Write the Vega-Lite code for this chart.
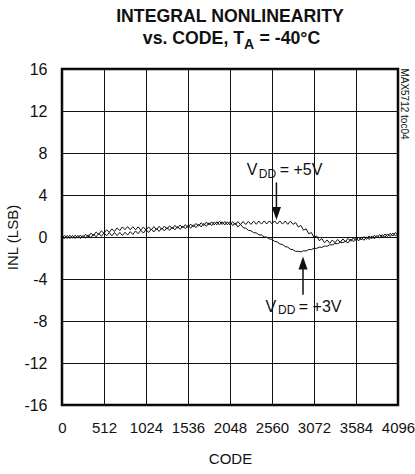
{
  "$schema": "https://vega.github.io/schema/vega-lite/v6.json",
  "width": 336,
  "height": 336,
  "autosize": {"type": "none"},
  "padding": {"left": 62, "top": 69, "right": 17, "bottom": 69},
  "background": "white",
  "config": {
    "font": "Liberation Sans",
    "view": {"stroke": "black", "strokeWidth": 2.5},
    "axis": {
      "grid": true, "gridColor": "#111", "gridOpacity": 1, "gridWidth": 1,
      "domain": false, "ticks": false, "tickSize": 0,
      "labelFont": "Liberation Sans", "labelFontSize": 15, "labelColor": "#111",
      "titleFont": "Liberation Sans", "titleFontSize": 15, "titleFontWeight": "normal", "titleColor": "#111"
    }
  },
  "datasets": {
    "inl": [
      {"code":0,"v5":-0.1,"v3":-0.05},{"code":32,"v5":0.16,"v3":-0.15},{"code":64,"v5":-0.14,"v3":0.15},{"code":96,"v5":0.17,"v3":-0.15},
      {"code":128,"v5":-0.12,"v3":0.15},{"code":160,"v5":0.18,"v3":-0.15},{"code":192,"v5":-0.11,"v3":0.15},{"code":224,"v5":0.19,"v3":-0.15},
      {"code":256,"v5":-0.1,"v3":0.15},{"code":288,"v5":0.26,"v3":-0.12},{"code":320,"v5":0.01,"v3":0.21},{"code":352,"v5":0.37,"v3":-0.06},
      {"code":384,"v5":0.13,"v3":0.28},{"code":416,"v5":0.48,"v3":0.01},{"code":448,"v5":0.24,"v3":0.34},{"code":480,"v5":0.59,"v3":0.07},
      {"code":512,"v5":0.35,"v3":0.4},{"code":544,"v5":0.69,"v3":0.11},{"code":576,"v5":0.44,"v3":0.41},{"code":608,"v5":0.78,"v3":0.12},
      {"code":640,"v5":0.53,"v3":0.43},{"code":672,"v5":0.87,"v3":0.13},{"code":704,"v5":0.61,"v3":0.44},{"code":736,"v5":0.96,"v3":0.14},
      {"code":768,"v5":0.7,"v3":0.45},{"code":800,"v5":0.99,"v3":0.18},{"code":832,"v5":0.69,"v3":0.51},{"code":864,"v5":0.98,"v3":0.24},
      {"code":896,"v5":0.68,"v3":0.58},{"code":928,"v5":0.97,"v3":0.31},{"code":960,"v5":0.66,"v3":0.64},{"code":992,"v5":0.96,"v3":0.37},
      {"code":1024,"v5":0.65,"v3":0.7},{"code":1056,"v5":0.96,"v3":0.43},{"code":1088,"v5":0.68,"v3":0.75},{"code":1120,"v5":0.99,"v3":0.48},
      {"code":1152,"v5":0.7,"v3":0.8},{"code":1184,"v5":1.01,"v3":0.53},{"code":1216,"v5":0.73,"v3":0.85},{"code":1248,"v5":1.04,"v3":0.58},
      {"code":1280,"v5":0.75,"v3":0.9},{"code":1312,"v5":1.07,"v3":0.63},{"code":1344,"v5":0.79,"v3":0.95},{"code":1376,"v5":1.11,"v3":0.68},
      {"code":1408,"v5":0.83,"v3":1.0},{"code":1440,"v5":1.14,"v3":0.73},{"code":1472,"v5":0.86,"v3":1.05},{"code":1504,"v5":1.18,"v3":0.78},
      {"code":1536,"v5":0.9,"v3":1.1},{"code":1568,"v5":1.23,"v3":0.83},{"code":1600,"v5":0.96,"v3":1.16},{"code":1632,"v5":1.29,"v3":0.89},
      {"code":1664,"v5":1.03,"v3":1.23},{"code":1696,"v5":1.36,"v3":0.96},{"code":1728,"v5":1.09,"v3":1.29},{"code":1760,"v5":1.42,"v3":1.02},
      {"code":1792,"v5":1.15,"v3":1.35},{"code":1824,"v5":1.45,"v3":1.09},{"code":1856,"v5":1.15,"v3":1.43},{"code":1888,"v5":1.45,"v3":1.16},
      {"code":1920,"v5":1.15,"v3":1.5},{"code":1952,"v5":1.45,"v3":1.19},{"code":1984,"v5":1.15,"v3":1.48},{"code":2016,"v5":1.45,"v3":1.16},
      {"code":2048,"v5":1.15,"v3":1.45},{"code":2080,"v5":1.46,"v3":1.09},{"code":2112,"v5":1.16,"v3":1.33},{"code":2144,"v5":1.47,"v3":0.96},
      {"code":2176,"v5":1.18,"v3":1.2},{"code":2208,"v5":1.48,"v3":0.89},{"code":2240,"v5":1.19,"v3":0.84},{"code":2272,"v5":1.49,"v3":0.64},
      {"code":2304,"v5":1.2,"v3":0.59},{"code":2336,"v5":1.51,"v3":0.41},{"code":2368,"v5":1.21,"v3":0.39},{"code":2400,"v5":1.52,"v3":0.21},
      {"code":2432,"v5":1.23,"v3":0.19},{"code":2464,"v5":1.53,"v3":0.01},{"code":2496,"v5":1.24,"v3":-0.01},{"code":2528,"v5":1.54,"v3":-0.19},
      {"code":2560,"v5":1.25,"v3":-0.21},{"code":2592,"v5":1.54,"v3":-0.42},{"code":2624,"v5":1.24,"v3":-0.46},{"code":2656,"v5":1.53,"v3":-0.67},
      {"code":2688,"v5":1.23,"v3":-0.71},{"code":2720,"v5":1.52,"v3":-0.92},{"code":2752,"v5":1.21,"v3":-0.96},{"code":2784,"v5":1.51,"v3":-1.17},
      {"code":2816,"v5":1.2,"v3":-1.21},{"code":2848,"v5":1.38,"v3":-1.37},{"code":2880,"v5":0.95,"v3":-1.36},{"code":2912,"v5":1.1,"v3":-1.42},
      {"code":2944,"v5":0.65,"v3":-1.31},{"code":2976,"v5":0.78,"v3":-1.33},{"code":3008,"v5":0.3,"v3":-1.19},{"code":3040,"v5":0.43,"v3":-1.2},
      {"code":3072,"v5":-0.05,"v3":-1.06},{"code":3104,"v5":0.1,"v3":-1.09},{"code":3136,"v5":-0.35,"v3":-0.96},{"code":3168,"v5":-0.15,"v3":-0.99},
      {"code":3200,"v5":-0.55,"v3":-0.86},{"code":3232,"v5":-0.28,"v3":-0.88},{"code":3264,"v5":-0.6,"v3":-0.74},{"code":3296,"v5":-0.28,"v3":-0.75},
      {"code":3328,"v5":-0.55,"v3":-0.61},{"code":3360,"v5":-0.23,"v3":-0.64},{"code":3392,"v5":-0.5,"v3":-0.51},{"code":3424,"v5":-0.18,"v3":-0.54},
      {"code":3456,"v5":-0.45,"v3":-0.41},{"code":3488,"v5":-0.13,"v3":-0.55},{"code":3520,"v5":-0.4,"v3":-0.2},{"code":3552,"v5":-0.08,"v3":-0.45},
      {"code":3584,"v5":-0.35,"v3":-0.1},{"code":3616,"v5":-0.02,"v3":-0.37},{"code":3648,"v5":-0.29,"v3":-0.04},{"code":3680,"v5":0.04,"v3":-0.31},
      {"code":3712,"v5":-0.23,"v3":0.02},{"code":3744,"v5":0.11,"v3":-0.24},{"code":3776,"v5":-0.16,"v3":0.09},{"code":3808,"v5":0.17,"v3":-0.18},
      {"code":3840,"v5":-0.1,"v3":0.15},{"code":3872,"v5":0.23,"v3":-0.11},{"code":3904,"v5":-0.04,"v3":0.23},{"code":3936,"v5":0.29,"v3":-0.04},
      {"code":3968,"v5":0.03,"v3":0.3},{"code":4000,"v5":0.36,"v3":0.04},{"code":4032,"v5":0.09,"v3":0.38},{"code":4064,"v5":0.42,"v3":0.11},
      {"code":4095,"v5":0.2,"v3":0.25}
    ],
    "arrows": [
      {"series":"v5","code":2614,"inl":5.2,"inl2":2.6,"head":2.24},
      {"series":"v3","code":2938,"inl":-2.7,"inl2":-5.5,"head":-2.48}
    ],
    "labels": [
      {"role":"title","code":2048,"inl":20.5,"t":"INTEGRAL NONLINEARITY"},
      {"role":"title2","code":985,"inl":18.38,"t":"vs. CODE, T"},
      {"role":"title2sub","code":2219,"inl":17.9,"t":"A"},
      {"role":"title2","code":2408,"inl":18.38,"t":"= -40°C"},
      {"role":"ann","code":2252,"inl":5.95,"t":"V"},
      {"role":"annsub","code":2398,"inl":5.66,"t":"DD"},
      {"role":"ann","code":2654,"inl":5.95,"t":"= +5V"},
      {"role":"ann","code":2480,"inl":-7.11,"t":"V"},
      {"role":"annsub","code":2633,"inl":-7.33,"t":"DD"},
      {"role":"ann","code":2886,"inl":-7.11,"t":"= +3V"},
      {"role":"toc","code":4170,"inl":12.67,"t":"MAX5712 toc04"}
    ]
  },
  "layer": [
    {
      "data": {"name": "inl"},
      "transform": [{"fold": ["v5", "v3"], "as": ["series", "inl"]}],
      "mark": {"type": "line", "color": "#111", "strokeWidth": 1, "interpolate": "linear"},
      "encoding": {
        "x": {"field": "code", "type": "quantitative",
              "scale": {"domain": [0, 4096], "nice": false, "zero": false},
              "axis": {"title": "CODE", "values": [0,256,512,768,1024,1280,1536,1792,2048,2304,2560,2816,3072,3328,3584,3840,4096],
                       "labelExpr": "datum.value % 512 == 0 ? '' + datum.value : ''",
                       "labelFlush": false, "labelOverlap": false, "labelPadding": 15, "titlePadding": 16}},
        "y": {"field": "inl", "type": "quantitative",
              "scale": {"domain": [-16, 16], "nice": false, "zero": false},
              "axis": {"title": "INL (LSB)", "values": [-16,-12,-8,-4,0,4,8,12,16], "labelExpr": "'' + datum.value",
                       "labelFontSize": 16, "labelPadding": 15, "titlePadding": 3, "labelOverlap": false, "labelFlush": false}},
        "detail": {"field": "series"}
      }
    },
    {
      "data": {"name": "arrows"},
      "mark": {"type": "rule", "color": "#111", "strokeWidth": 1.5},
      "encoding": {
        "x": {"field": "code", "type": "quantitative"},
        "y": {"field": "inl", "type": "quantitative"},
        "y2": {"field": "inl2"}
      }
    },
    {
      "data": {"name": "arrows"},
      "transform": [{"filter": "datum.series == 'v5'"}],
      "mark": {"type": "point", "shape": "M-0.7,-1L0.7,-1L0,1Z", "filled": true, "color": "#111", "opacity": 1, "size": 169},
      "encoding": {
        "x": {"field": "code", "type": "quantitative"},
        "y": {"field": "head", "type": "quantitative"}
      }
    },
    {
      "data": {"name": "arrows"},
      "transform": [{"filter": "datum.series == 'v3'"}],
      "mark": {"type": "point", "shape": "M-0.7,1L0.7,1L0,-1Z", "filled": true, "color": "#111", "opacity": 1, "size": 169},
      "encoding": {
        "x": {"field": "code", "type": "quantitative"},
        "y": {"field": "head", "type": "quantitative"}
      }
    },
    {
      "data": {"name": "labels"},
      "transform": [{"filter": "datum.role == 'title'"}],
      "mark": {"type": "text", "font": "Liberation Sans", "fontWeight": "bold", "fontSize": 17.7, "align": "center", "baseline": "alphabetic", "color": "#111"},
      "encoding": {"x": {"field": "code", "type": "quantitative"}, "y": {"field": "inl", "type": "quantitative"}, "text": {"field": "t"}}
    },
    {
      "data": {"name": "labels"},
      "transform": [{"filter": "datum.role == 'title2'"}],
      "mark": {"type": "text", "font": "Liberation Sans", "fontWeight": "bold", "fontSize": 17.7, "align": "left", "baseline": "alphabetic", "color": "#111"},
      "encoding": {"x": {"field": "code", "type": "quantitative"}, "y": {"field": "inl", "type": "quantitative"}, "text": {"field": "t"}}
    },
    {
      "data": {"name": "labels"},
      "transform": [{"filter": "datum.role == 'title2sub'"}],
      "mark": {"type": "text", "font": "Liberation Sans", "fontWeight": "bold", "fontSize": 14, "align": "left", "baseline": "alphabetic", "color": "#111"},
      "encoding": {"x": {"field": "code", "type": "quantitative"}, "y": {"field": "inl", "type": "quantitative"}, "text": {"field": "t"}}
    },
    {
      "data": {"name": "labels"},
      "transform": [{"filter": "datum.role == 'ann'"}],
      "mark": {"type": "text", "font": "Liberation Sans", "fontSize": 16, "align": "left", "baseline": "alphabetic", "color": "#111"},
      "encoding": {"x": {"field": "code", "type": "quantitative"}, "y": {"field": "inl", "type": "quantitative"}, "text": {"field": "t"}}
    },
    {
      "data": {"name": "labels"},
      "transform": [{"filter": "datum.role == 'annsub'"}],
      "mark": {"type": "text", "font": "Liberation Sans", "fontSize": 12, "align": "left", "baseline": "alphabetic", "color": "#111"},
      "encoding": {"x": {"field": "code", "type": "quantitative"}, "y": {"field": "inl", "type": "quantitative"}, "text": {"field": "t"}}
    },
    {
      "data": {"name": "labels"},
      "transform": [{"filter": "datum.role == 'toc'"}],
      "mark": {"type": "text", "font": "Liberation Sans", "fontSize": 10, "angle": 90, "align": "center", "baseline": "middle", "color": "#111"},
      "encoding": {"x": {"field": "code", "type": "quantitative"}, "y": {"field": "inl", "type": "quantitative"}, "text": {"field": "t"}}
    }
  ]
}
